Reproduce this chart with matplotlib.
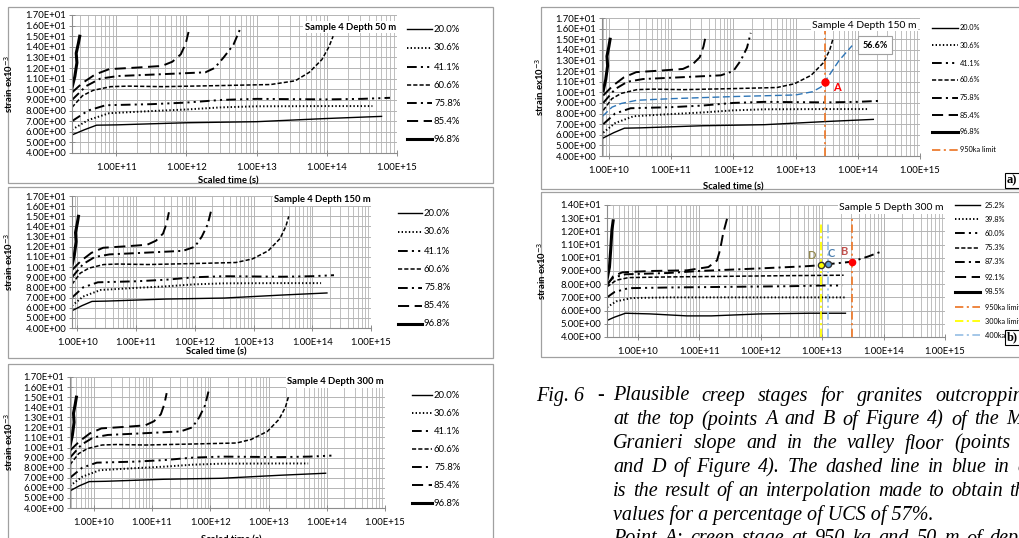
import numpy as np
import matplotlib
matplotlib.use('Agg')
import matplotlib.pyplot as plt
from matplotlib.patches import Rectangle
from matplotlib.ticker import FixedLocator, FuncFormatter, LogLocator, NullFormatter

plt.rcParams['font.family'] = ['Lato', 'DejaVu Sans']
plt.rcParams['lines.scale_dashes'] = False

W, H = 1020, 538

# ---- Sample 4 (same stress levels at 50, 150, 300 m) ----
levels_s4 = ['20.0%', '30.6%', '41.1%', '60.6%', '75.8%', '85.4%', '96.8%']

# strain ex10^-3 along each curve
eps_200 = [5.7, 6.2, 6.62, 6.65, 6.85, 6.95, 7.25, 7.45]
eps_306 = [6.2, 7.1, 7.75, 7.95, 8.1, 8.3, 8.4, 8.42, 8.42]
eps_411 = [7.0, 8.0, 8.5, 8.6, 8.75, 9.0, 9.1, 9.05, 9.1, 9.2]
eps_606 = [8.3, 9.4, 9.9, 10.25, 10.3, 10.25, 10.35, 10.45, 10.8, 11.6, 12.8, 14.0, 15.0]
eps_758 = [9.0, 10.3, 11.0, 11.25, 11.4, 11.6, 12.0, 13.0, 14.2, 15.6]
eps_854 = [9.7, 10.6, 11.4, 11.9, 12.05, 12.2, 12.6, 13.3, 14.3, 15.4]
eps_968 = [10.15, 11.2, 12.5, 13.4, 14.3, 15.0]

# log10 of scaled time (s), depth 50 m
t50_200 = [10.37, 10.55, 10.72, 11.0, 12.0, 13.0, 14.0, 14.78]
t50_306 = [10.37, 10.6, 10.9, 11.5, 12.0, 12.5, 13.0, 14.0, 14.65]
t50_411 = [10.37, 10.6, 10.85, 11.5, 12.0, 12.5, 13.0, 14.0, 14.5, 14.9]
t50_606 = [10.37, 10.52, 10.67, 10.92, 11.17, 11.67, 12.47, 13.2, 13.55, 13.75, 13.93, 14.03, 14.09]
t50_758 = [10.37, 10.57, 10.77, 11.02, 11.57, 12.27, 12.4, 12.53, 12.67, 12.76]
t50_854 = [10.37, 10.52, 10.7, 10.9, 11.3, 11.65, 11.8, 11.92, 11.99, 12.03]
t50_968 = [10.37, 10.41, 10.44, 10.43, 10.46, 10.48]

# depth 150 m
t150_200 = [9.91, 10.08, 10.25, 10.5, 11.5, 12.5, 13.5, 14.25]
t150_306 = [9.91, 10.1, 10.4, 11.0, 11.5, 12.0, 12.5, 13.5, 14.15]
t150_411 = [9.91, 10.1, 10.35, 11.0, 11.5, 12.0, 12.5, 13.5, 14.0, 14.37]
t150_606 = [9.91, 10.05, 10.2, 10.45, 10.7, 11.2, 12.0, 12.7, 12.98, 13.25, 13.45, 13.55, 13.6]
t150_758 = [9.91, 10.1, 10.3, 10.55, 11.1, 11.8, 12.0, 12.12, 12.22, 12.28]
t150_854 = [9.91, 10.06, 10.24, 10.44, 10.84, 11.19, 11.34, 11.46, 11.52, 11.56]
t150_968 = [9.91, 9.95, 9.98, 9.97, 10.0, 10.02]

# depth 300 m
t300_200 = [9.59, 9.75, 9.92, 10.2, 11.2, 12.2, 13.2, 13.98]
t300_306 = [9.59, 9.8, 10.1, 10.7, 11.2, 11.7, 12.2, 13.2, 13.68]
t300_411 = [9.59, 9.8, 10.05, 10.7, 11.2, 11.7, 12.2, 13.2, 13.7, 14.08]
t300_606 = [9.59, 9.74, 9.89, 10.14, 10.39, 10.89, 11.69, 12.45, 12.7, 12.98, 13.18, 13.29, 13.34]
t300_758 = [9.59, 9.79, 9.99, 10.24, 10.79, 11.49, 11.69, 11.81, 11.91, 11.97]
t300_854 = [9.59, 9.75, 9.93, 10.13, 10.53, 10.88, 11.03, 11.15, 11.21, 11.25]
t300_968 = [9.59, 9.63, 9.66, 9.65, 9.68, 9.70]

# interpolated 56.6% curve (blue, panel a)
eps_566 = [7.75, 8.6, 8.95, 9.25, 9.4, 9.6, 9.75, 10.05, 10.5, 11.6, 13.0, 14.4]
t_566 = [9.9, 10.05, 10.2, 10.45, 11.0, 12.0, 13.0, 13.27, 13.41, 13.54, 13.7, 13.91]
limit_950 = 13.48          # log10 s
point_A = (13.48, 11.0)

# ---- Sample 5 depth 300 m ----
levels_s5 = ['25.2%', '39.8%', '60.0%', '75.3%', '87.3%', '92.1%', '98.5%']
s5_eps = [
    [5.25, 5.5, 5.8, 5.75, 5.6, 5.6, 5.75, 5.8, 5.8],
    [6.25, 6.7, 6.95, 7.0, 7.0, 7.0],
    [7.0, 7.4, 7.7, 7.75, 7.8, 7.85, 7.9, 7.9],
    [7.8, 8.3, 8.5, 8.55, 8.6, 8.65, 8.68],
    [8.0, 8.5, 8.75, 8.85, 9.0, 9.2, 9.35, 9.44, 9.52, 9.7, 10.1, 10.45],
    [7.9, 8.6, 8.9, 9.0, 9.05, 9.3, 9.8, 10.6, 11.85, 13.25],
    [8.35, 9.3, 10.6, 12.1, 12.8],
]
s5_t = [
    [9.5, 9.62, 9.8, 10.2, 10.8, 11.2, 12.0, 12.8, 13.38],
    [9.5, 9.65, 9.9, 10.5, 12.0, 13.4],
    [9.5, 9.62, 9.85, 10.5, 11.5, 12.5, 13.0, 13.33],
    [9.5, 9.65, 9.85, 10.5, 11.5, 12.5, 13.35],
    [9.5, 9.6, 9.8, 10.5, 11.0, 12.0, 12.7, 12.99, 13.1, 13.48, 13.75, 13.95],
    [9.5, 9.6, 9.75, 10.2, 10.8, 11.15, 11.29, 11.34, 11.39, 11.47],
    [9.5, 9.54, 9.56, 9.58, 9.6],
]
limit_300 = 12.98
limit_400 = 13.1
point_D = (12.99, 9.44)
point_C = (13.1, 9.5)
point_B = (13.48, 9.7)

styles = [
    dict(color='black', lw=1.0, ls='-'),
    dict(color='black', lw=1.4, ls=(0, (1, 1.6))),
    dict(color='black', lw=1.4, ls=(0, (7, 3, 1.5, 3, 1.5, 3))),
    dict(color='black', lw=1.1, ls=(0, (3, 1.5))),
    dict(color='black', lw=1.4, ls=(0, (7, 3, 1.5, 3))),
    dict(color='black', lw=1.4, ls=(0, (8, 4))),
    dict(color='black', lw=2.2, ls='-'),
]
orange, yellow, lblue = '#ed7d31', '#ffff00', '#9dc3e6'
lim_style = dict(lw=1.3, ls=(0, (6, 2.5, 1.5, 2.5)))

fig = plt.figure(figsize=(W / 100, H / 100), dpi=100)
bg = fig.add_axes([0, 0, 1, 1], zorder=0)
bg.set_xlim(0, W)
bg.set_ylim(H, 0)
bg.axis('off')


def ax_px(x0, y0, x1, y1):
    a = fig.add_axes([x0 / W, 1 - y1 / H, (x1 - x0) / W, (y1 - y0) / H], zorder=2)
    return a


def sci(v, p):
    return '%.2E' % v


def setup(ax, left, ylo, yhi, xlab=None, ylab_x=None):
    ax.set_xscale('log')
    ax.set_xlim(10 ** left, 1e15)
    ax.set_ylim(ylo, yhi)
    ax.xaxis.set_major_locator(FixedLocator([10.0 ** k for k in range(10, 16)]))
    ax.xaxis.set_major_formatter(FuncFormatter(sci))
    ax.xaxis.set_minor_locator(LogLocator(base=10, subs=np.arange(2, 10), numticks=100))
    ax.xaxis.set_minor_formatter(NullFormatter())
    ax.set_yticks(np.arange(ylo, yhi + 0.5, 1.0))
    ax.yaxis.set_major_formatter(FuncFormatter(sci))
    ax.grid(True, which='major', color='#b4b4b4', lw=0.7)
    ax.grid(True, which='minor', axis='x', color='#b4b4b4', lw=0.6)
    ax.set_axisbelow(True)
    for s in ['top', 'right']:
        ax.spines[s].set_visible(False)
    for s in ['left', 'bottom']:
        ax.spines[s].set_color('#8c8c8c')
        ax.spines[s].set_linewidth(0.8)
    ax.tick_params(which='major', direction='inout', length=4, width=0.7,
                   color='#8c8c8c', labelsize=6.8, pad=2)
    ax.tick_params(axis='x', which='major', pad=5)
    ax.tick_params(which='minor', length=0)
    ax.set_ylabel('strain ex10$^{-3}$', fontsize=6.8, fontweight='bold')
    if xlab is not None:
        ax.set_xlabel('Scaled time (s)', fontsize=6.8, fontweight='bold')
        ax.xaxis.set_label_coords(xlab[0], xlab[1], transform=bg.transData)
    ax.yaxis.set_label_coords(ylab_x[0], ylab_x[1], transform=bg.transData)


def legend(entries, x0, x1, xt, rows, fs):
    for (lab, st), y in zip(entries, rows):
        bg.plot([x0, x1], [y, y], **st)
        bg.text(xt, y, lab, fontsize=fs, va='center', ha='left')


def draw_s4(ax, tl):
    for eps, t, st in zip([eps_200, eps_306, eps_411, eps_606, eps_758, eps_854, eps_968], tl, styles):
        ax.plot(10 ** np.array(t), eps, **st)


# boxes round each chart
for x, y, w, h in [(8, 7, 485, 176), (8, 187, 485, 171), (8, 364, 485, 200),
                   (541, 7, 600, 182), (541, 192, 600, 165)]:
    bg.add_patch(Rectangle((x, y), w, h, fill=False, ec='#a0a0a0', lw=0.9))

# ---- left column ----
ax1 = ax_px(72, 15, 397, 153)
setup(ax1, 10.37, 4, 17, xlab=(228, 176), ylab_x=(15, 84))
draw_s4(ax1, [t50_200, t50_306, t50_411, t50_606, t50_758, t50_854, t50_968])
ax1.text(396, 27, 'Sample 4 Depth 50 m', transform=bg.transData, ha='right', va='center',
         fontsize=6.8, fontweight='bold', bbox=dict(fc='white', ec='none', pad=1), zorder=5)
legend(list(zip(levels_s4, styles)), 407, 432, 434, [29, 48, 67, 85, 103, 121, 139], 6.8)

ax2 = ax_px(72, 196, 371, 328)
setup(ax2, 9.91, 4, 17, xlab=(216, 347), ylab_x=(15, 262))
draw_s4(ax2, [t150_200, t150_306, t150_411, t150_606, t150_758, t150_854, t150_968])
ax2.text(371, 200, 'Sample 4 Depth 150 m', transform=bg.transData, ha='right', va='center',
         fontsize=6.8, fontweight='bold', bbox=dict(fc='white', ec='none', pad=1), zorder=5)
legend(list(zip(levels_s4, styles)), 398, 422, 424, [213, 232, 251, 269, 288, 306, 324], 6.8)

ax3 = ax_px(70, 377, 385, 508)
setup(ax3, 9.59, 4, 17, xlab=(231, 535), ylab_x=(15, 442))
draw_s4(ax3, [t300_200, t300_306, t300_411, t300_606, t300_758, t300_854, t300_968])
ax3.text(384, 382, 'Sample 4 Depth 300 m', transform=bg.transData, ha='right', va='center',
         fontsize=6.8, fontweight='bold', bbox=dict(fc='white', ec='none', pad=1), zorder=5)
legend(list(zip(levels_s4, styles)), 412, 432, 434, [395, 413, 431, 449, 467, 485, 503], 6.8)

# ---- panel a ----
axa = ax_px(602, 18, 920, 156)
setup(axa, 9.89, 4, 17, xlab=(733, 182), ylab_x=(546, 87))
draw_s4(axa, [t150_200, t150_306, t150_411, t150_606, t150_758, t150_854, t150_968])
axa.plot(10 ** np.array(t_566), eps_566, color='#2e75b6', lw=1.0, ls=(0, (5, 2.5)))
axa.axvline(10 ** limit_950, color=orange, **lim_style)
axa.plot(10 ** point_A[0], point_A[1], 'o', color='#ff0000', ms=5, zorder=6)
axa.text(10 ** 13.6, 10.45, 'A', color='#ff0000', fontsize=8, fontweight='bold', va='center')
axa.text(875, 45, '56.6%', transform=bg.transData, ha='center', va='center', fontsize=6.5,
         fontweight='bold', bbox=dict(fc='white', ec='#a0a0a0', lw=0.8, pad=3), zorder=5)
axa.text(917, 25, 'Sample 4 Depth 150 m', transform=bg.transData, ha='right', va='center',
         fontsize=7.5, bbox=dict(fc='white', ec='none', pad=1), zorder=5)
legend(list(zip(levels_s4, styles)) + [('950ka limit', dict(color=orange, **lim_style))],
       932, 958, 960, [28, 45, 63, 80, 98, 115, 132, 150], 5.3)

# ---- panel b ----
axb = ax_px(607, 205, 945, 337)
setup(axb, 9.5, 4, 14, ylab_x=(548, 271))
for eps, t, st in zip(s5_eps, s5_t, styles):
    axb.plot(10 ** np.array(t), eps, **st)
axb.plot([10 ** limit_300] * 2, [4, 12.6], color=yellow, **lim_style)
axb.plot([10 ** limit_400] * 2, [4, 12.7], color=lblue, **lim_style)
axb.plot([10 ** limit_950] * 2, [4, 13.1], color=orange, **lim_style)
axb.plot(10 ** point_D[0], point_D[1], 'o', color=yellow, mec='#333333', ms=4.5, zorder=6)
axb.plot(10 ** point_C[0], point_C[1], 'o', color='#5b9bd5', mec='#333333', ms=4.5, zorder=6)
axb.plot(10 ** point_B[0], point_B[1], 'o', color='#ff0000', ms=4.5, zorder=6)
axb.text(10 ** 12.82, 10.15, 'D', color='#948a54', fontsize=8, fontweight='bold', ha='center', va='center')
axb.text(10 ** 13.15, 10.3, 'C', color='#4a7fb0', fontsize=8, fontweight='bold', ha='center', va='center')
axb.text(10 ** 13.36, 10.45, 'B', color='#c0504d', fontsize=8, fontweight='bold', ha='center', va='center')
axb.text(944, 208, 'Sample 5 Depth 300 m', transform=bg.transData, ha='right', va='center',
         fontsize=7.5, bbox=dict(fc='white', ec='none', pad=1), zorder=5)
legend(list(zip(levels_s5, styles)) + [('950ka limit', dict(color=orange, **lim_style)),
                                       ('300ka limit', dict(color=yellow, **lim_style)),
                                       ('400ka limit', dict(color=lblue, **lim_style))],
       955, 980, 985, [205, 219, 233, 248, 262, 277, 292, 307, 321, 335], 5.3)

# panel letters
for y, lab in [(173, 'a)'), (330, 'b)')]:
    bg.add_patch(Rectangle((1005, y), 20, 15, fc='white', ec='black', lw=0.8, zorder=4))
    bg.text(1007, y + 7.5, lab, fontsize=9, fontweight='bold', va='center',
            family='Liberation Serif', zorder=5)

# ---- caption ----
cap = dict(fontsize=14.5, family='Liberation Serif', style='italic', va='center')
bg.text(536, 396, 'Fig. 6', **cap)
bg.text(597, 396, '-', **cap)
cap_lines = [
    ('Plausible creep stages for granites outcropping', True),
    ('at the top (points A and B of Figure 4) of the Mt.', True),
    ('Granieri slope and in the valley floor (points C', True),
    ('and D of Figure 4). The dashed line in blue in a)', True),
    ('is the result of an interpolation made to obtain the', True),
    ('values for a percentage of UCS of 57%.', False),
    ('Point A: creep stage at 950 ka and 50 m of depth', True),
]
x_start = 613
rend = fig.canvas.get_renderer()
for i, (line, just) in enumerate(cap_lines):
    y = 396 + 23.8 * i
    if not just:
        bg.text(x_start, y, line, **cap)
        continue
    words = line.split(' ')
    ts = [bg.text(0, y, w, **cap) for w in words]
    ws = [t.get_window_extent(rend).width for t in ts]
    gap = (1034 - x_start - sum(ws)) / (len(words) - 1)
    x = x_start
    for t, w in zip(ts, ws):
        t.set_x(x)
        x += w + gap

fig.savefig('out.png', dpi=100)
